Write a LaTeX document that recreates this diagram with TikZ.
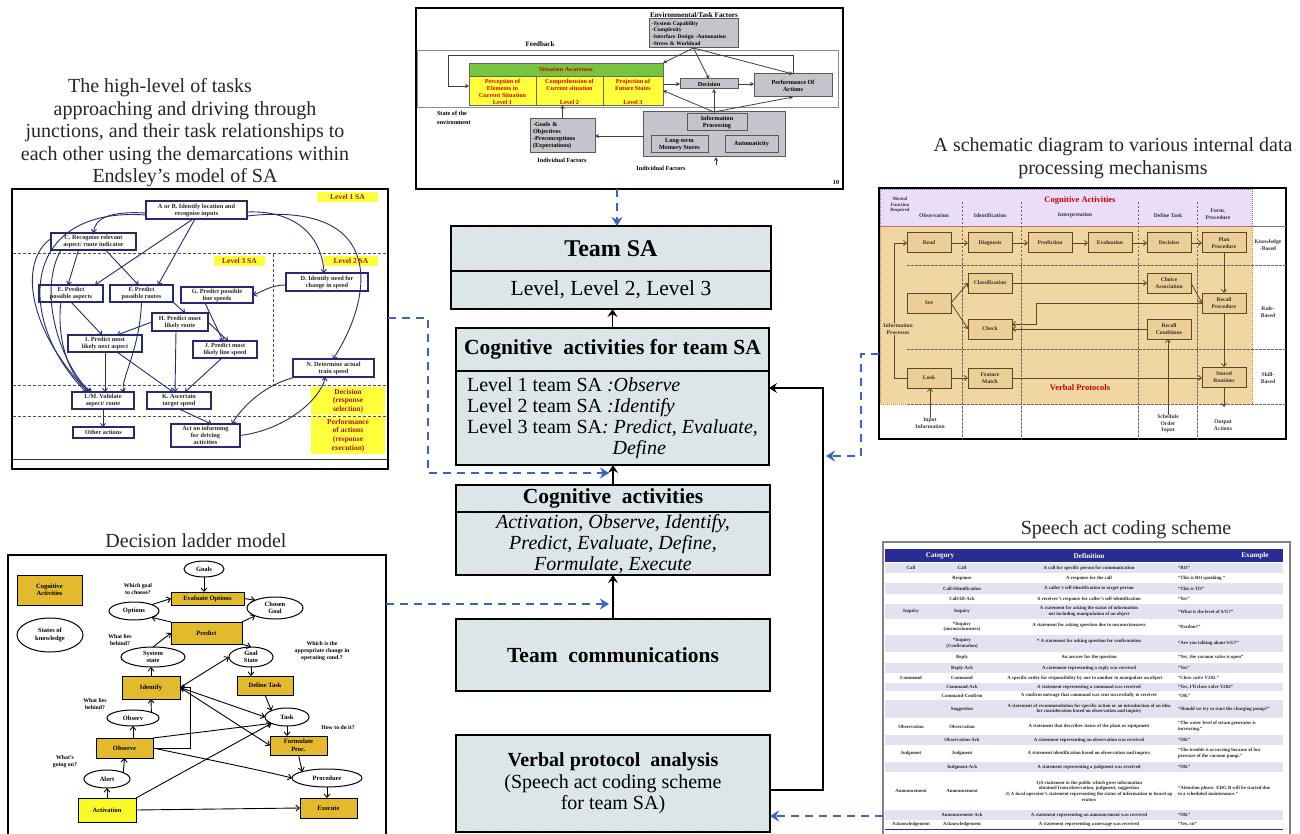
\documentclass[tikz,border=0pt]{standalone}
\usepackage{fontspec}
\setmainfont{Liberation Serif}
\usetikzlibrary{arrows.meta,patterns,shapes.geometric}
\newcommand{\myfs}[2]{\fontsize{#1}{#2}\selectfont}
\definecolor{cfill}{RGB}{231,240,243}
\definecolor{hatch}{RGB}{196,210,214}
\definecolor{dblue}{RGB}{58,98,204}
\definecolor{navy}{RGB}{38,42,112}
\definecolor{dred}{RGB}{170,20,20}
\definecolor{lvl}{RGB}{255,255,60}
\definecolor{gboxc}{RGB}{196,196,204}
\definecolor{sagreen}{RGB}{118,196,64}
\definecolor{gold}{RGB}{226,186,44}
\definecolor{actyel}{RGB}{250,250,40}
\definecolor{tanbg}{RGB}{240,215,162}
\definecolor{tanbox}{RGB}{236,207,150}
\definecolor{tanline}{RGB}{90,70,40}
\definecolor{lav}{RGB}{233,221,248}
\definecolor{lavline}{RGB}{150,100,200}
\definecolor{orng}{RGB}{230,120,40}
\definecolor{thead}{RGB}{42,44,150}
\definecolor{trow}{RGB}{226,226,240}
\definecolor{tframe}{RGB}{130,130,135}
\begin{document}
\begin{tikzpicture}[x=1pt,y=-1pt,
  every node/.style={inner sep=0pt, outer sep=0pt},
  frame/.style={draw=black, line width=1.6, anchor=north west},
  cbox/.style={draw=black, line width=1.7, preaction={fill=cfill}, pattern=north east lines, pattern color=hatch, anchor=north west, align=center},
  carrow/.style={draw=black, line width=1.8, -{Stealth[length=8pt,width=10pt,inset=3pt]}},
  dlink/.style={draw=dblue, line width=1.8, dash pattern=on 8pt off 6pt, -{Stealth[length=9pt,width=11pt,inset=3pt]}},
  caption/.style={font=\myfs{20}{22.5}, align=center, text=black!85},
  gb/.style={fill=gboxc, draw=black!65, line width=1, anchor=north west, align=center},
  tarrow/.style={draw=black!75, line width=0.8, -{Stealth[length=4pt,width=4pt]}},
  lvlbox/.style={fill=lvl, anchor=north west, font=\bfseries\myfs{7.5}{8.7}, text=dred, align=center},
  enode/.style={draw=navy, line width=1.3, fill=white, font=\bfseries\myfs{6.3}{7}, align=center, anchor=north west, text=black!85},
  eedge/.style={draw=navy, line width=0.9, -{Straight Barb[length=3pt,width=5pt]}},
  sbox/.style={draw=tanline, line width=1, fill=tanbox, minimum width=44, minimum height=20, anchor=north west, font=\bfseries\myfs{5.6}{6.4}, align=center, text=black!80},
  sarr/.style={draw=tanline, line width=0.8, -{Straight Barb[length=3pt,width=5pt]}},
  stxt/.style={font=\bfseries\myfs{5.6}{6.6}, align=center, text=black!80},
  dact/.style={fill=gold, draw=black, line width=1, anchor=north west, font=\bfseries\myfs{6.5}{7.5}, align=center},
  dstate/.style={ellipse, draw=black, line width=1, fill=white, font=\bfseries\myfs{6.5}{7.5}, align=center},
  dq/.style={font=\bfseries\myfs{5.8}{7}, align=center},
  darr/.style={draw=black, line width=0.9, -{Straight Barb[length=3.5pt,width=6pt]}},
  tc/.style={font=\bfseries\myfs{4.8}{5.6}, text=black!85, align=center},
  te/.style={tc, anchor=west, align=left},
]
\useasboundingbox (0,0) rectangle (1300,834);

% ================= captions =================
\node[caption] (capL) at (185,133) {The high-level of tasks\hspace*{50pt}\\approaching and driving through\\junctions, and their task relationships to\\each other using the demarcations within\\Endsley’s model of SA};
\node[caption] (capR) at (1113,158) {A schematic diagram to various internal data\\processing mechanisms};
\node[caption] (capD) at (196,541) {Decision ladder model};
\node[caption] (capS) at (1126,530) {Speech act coding scheme};

% ================= centre column =================
\node[cbox, minimum width=320, minimum height=45, font=\bfseries\myfs{24}{26}] (tsah) at (451,226) {Team SA};
\node[cbox, minimum width=320, minimum height=38, font=\myfs{21.5}{23}] (tsab) at (451,271) {Level, Level 2, Level 3};
\node[cbox, minimum width=313, minimum height=43, font=\bfseries\myfs{21.5}{23}] (cth) at (456,328) {Cognitive\ \ activities for team SA};
\node[cbox, minimum width=313, minimum height=94, align=left, font=\myfs{20}{21}] (ctb) at (456,371) {Level 1 team SA \textit{:Observe}\\Level 2 team SA \textit{:Identify}\\Level 3 team SA\textit{: Predict, Evaluate,}\\\hphantom{Level 3 team SA: }\textit{Define}};
\node[cbox, minimum width=314, minimum height=27, font=\bfseries\myfs{21.5}{23}] (cah) at (456,485) {Cognitive\ \ activities};
\node[cbox, minimum width=314, minimum height=63, font=\itshape\myfs{20}{21}] (cab) at (456,512) {Activation, Observe, Identify,\\Predict, Evaluate, Define,\\Formulate, Execute};
\node[cbox, minimum width=314, minimum height=72, font=\bfseries\myfs{21.5}{23}] (tc) at (456,619) {Team\ \ communications};
\node[cbox, minimum width=314, minimum height=97, font=\myfs{20}{21.5}] (vp) at (456,735) {\textbf{Verbal protocol\ \ analysis}\\(Speech act coding scheme\\for team SA)};

\draw[carrow] (cth.north) -- (cth.north |- tsab.south);
\draw[carrow] (cah.north) -- (cah.north |- ctb.south);
\draw[carrow] (tc.north) -- (tc.north |- cab.south);
\coordinate (fbA) at (823,790);
\coordinate (fbB) at (823,388);
\draw[carrow] (vp.east |- fbA) -- (fbA) -- (fbB) -- (ctb.east |- fbB);

% ================= top figure: Endsley model =================
\node[frame, line width=1.6, minimum width=427, minimum height=181] (topfig) at (416,8) {};
\begin{scope}[font=\bfseries\myfs{6.2}{7}]
  \node[font=\bfseries\myfs{7.2}{8}] (envt) at (694,15) {Environmental/Task Factors};
  \node[gb, minimum height=29, text width=83, inner xsep=3, align=left, font=\bfseries\myfs{5.6}{6.8}] (env) at (649,19) {-System Capability\\-Complexity\\-Interface Design -Automation\\-Stress \& Workload};
  \node[font=\bfseries\myfs{7}{8}] (fbt) at (540,44) {Feedback};
  \node[draw=black!45, line width=0.6, minimum width=421, minimum height=57, anchor=north west] (envr) at (417,50) {};
  \node[draw=black!60, fill=sagreen, line width=0.8, minimum width=194, minimum height=13, anchor=north west, text=red!85!black] (sah) at (469,63) {Situation Awareness};
  \node[draw=black!60, fill=lvl, line width=0.8, minimum width=67, minimum height=29, anchor=north west] (sa1) at (469,76) {};
  \node[draw=black!60, fill=lvl, line width=0.8, minimum width=67, minimum height=29, anchor=north west] (sa2) at (536,76) {};
  \node[draw=black!60, fill=lvl, line width=0.8, minimum width=60, minimum height=29, anchor=north west] (sa3) at (603,76) {};
  \node[align=center, text=red!85!black] (sa1t) at (502.5,91.5) {Perception of\\Elements in\\Current Situation\\Level 1};
  \node[align=center, text=red!85!black] (sa2t) at (569.5,85) {Comprehension of\\Current situation};
  \node[text=red!85!black] (sa2l) at (569.5,102) {Level 2};
  \node[align=center, text=red!85!black] (sa3t) at (633,84.5) {Projection of\\Future States};
  \node[text=red!85!black] (sa3l) at (633,102) {Level 3};
  \node[gb, minimum width=58, minimum height=10] (dec) at (680,79) {Decision};
  \node[gb, minimum width=78, minimum height=23] (perf) at (754,74) {Performance Of\\Actions};
  \node[gb, minimum width=142, minimum height=45] (info) at (643,112) {};
  \node[gb, minimum width=60, minimum height=17] (iproc) at (687,114) {Information\\Processing};
  \node[gb, minimum width=57, minimum height=17] (ltm) at (651,136) {Long-term\\Memory Stores};
  \node[gb, minimum width=53, minimum height=17] (auto) at (725,136) {Automaticity};
  \node[gb, minimum height=34, text width=59, inner xsep=3, align=left] (goals) at (530,119) {-Goals \&\\Objectives\\-Preconceptions\\(Expectations)};
  \node (if1) at (562,160) {Individual Factors};
  \node (if2) at (661,168) {Individual Factors};
  \node[anchor=west, align=left, font=\bfseries\myfs{6.2}{9}] (state) at (437,117.5) {State of the\\environment};
  \node (pg) at (836,182) {10};
\end{scope}
\coordinate (fb1) at (448,55);
\coordinate (fb2) at (448,86);
\draw[tarrow] (perf.north) -- (perf.north |- fb1) -- (fb1) -- (fb2) -- (sa1.west |- fb2);
\draw[tarrow] (env.south) -- (sah.north east);
\draw[tarrow] (env.south) -- (dec.north);
\draw[tarrow] (env.south) -- (perf.north);
\draw[tarrow] (sa3.east |- dec.west) -- (dec.west);
\draw[tarrow] (dec.east) -- (perf.west |- dec.east);
\draw[tarrow] (info.north) -- (sa3.east);
\draw[tarrow] (info.north) -- (info.north |- dec.south);
\draw[tarrow] (info.north) -- (perf.south);
\draw[tarrow] (info.west |- goals.east) -- (goals.east);
\draw[tarrow] (goals.north) -- (goals.north |- sa2.south);
\coordinate (ifin) at (716,165);
\draw[tarrow] (ifin) -- (ifin |- info.south);

% ================= left figure: junction tasks =================
\node[frame, line width=2, minimum width=376, minimum height=280] (endfig) at (12,189) {};
\begin{scope}[edash/.style={draw=black!70, line width=1, dash pattern=on 3pt off 2pt}]
  \draw[edash] (13,254) -- (387,254);
  \draw[edash] (13,385) -- (387,385);
  \draw[edash] (13,416) -- (387,416);
  \draw[edash] (273,254) -- (273,385);
  \draw[black!80, line width=1] (13,459) -- (387,459);
\end{scope}
\node[lvlbox, minimum width=61, minimum height=10] (l1) at (317,192) {Level 1 SA};
\node[lvlbox, minimum width=51, minimum height=10] (l3) at (214,256) {Level 3 SA};
\node[lvlbox, minimum width=54, minimum height=10] (l2) at (324,256) {Level 2 SA};
\node[lvlbox, minimum width=74, minimum height=28] (ldec) at (311,387) {Decision\\(response\\selection)};
\node[lvlbox, minimum width=74, minimum height=37] (lperf) at (311,417) {Performance\\of actions\\(response\\execution)};

\node[enode, minimum width=101, minimum height=18] (ab) at (146,201) {A or B. Identify location and\\recognise inputs};
\node[enode, minimum width=85, minimum height=17] (c) at (51,233) {C. Recognise relevant\\aspect/ route indicator};
\node[enode, minimum width=64, minimum height=17] (e) at (39,285) {E. Predict\\possible aspects};
\node[enode, minimum width=63, minimum height=17] (f) at (110,285) {F. Predict\\possible routes};
\node[enode, minimum width=72, minimum height=16] (g) at (181,287) {G. Predict possible\\line speeds};
\node[enode, minimum width=82, minimum height=18] (d) at (286,273) {D. Identify need for\\change in speed};
\node[enode, minimum width=56, minimum height=18] (h) at (152,313) {H. Predict most\\likely route};
\node[enode, minimum width=74, minimum height=17] (i) at (68,335) {I. Predict most\\likely next aspect};
\node[enode, minimum width=64, minimum height=17] (j) at (193,341) {J. Predict most\\likely line speed};
\node[enode, minimum width=81, minimum height=18] (n) at (293,359) {N. Determine actual\\train speed};
\node[enode, minimum width=62, minimum height=17] (lm) at (72,392) {L/M. Validate\\aspect/ route};
\node[enode, minimum width=64, minimum height=17] (k) at (147,392) {K. Ascertain\\target speed};
\node[enode, minimum width=61, minimum height=11] (oth) at (73,427) {Other actions};
\node[enode, minimum width=69, minimum height=23] (act) at (171,424) {Act on informing\\for driving\\activities};

\draw[eedge] ([yshift=-3]ab.west) .. controls (110,211) and (95,218) .. (c.north);
\draw[eedge] ([yshift=-5]ab.west) .. controls (20,206) and (15,320) .. ([xshift=14]lm.north west);
\draw[eedge] ([yshift=3]c.west) .. controls (18,262) and (28,330) .. ([xshift=16]lm.north west);
\draw[eedge] ([xshift=10]c.south west) .. controls (38,290) and (58,360) .. ([xshift=18]lm.north west);
\draw[eedge] ([xshift=47]ab.south west) -- ([xshift=-8]e.north east);
\draw[eedge] ([xshift=49]ab.south west) -- ([xshift=-15]f.north east);
\draw[eedge] ([xshift=-15]c.south) -- ([xshift=-3]e.north);
\draw[eedge] ([xshift=12]c.south) -- ([xshift=-3]f.north);
\draw[eedge] ([yshift=-2]ab.east) .. controls (300,210) and (322,240) .. ([xshift=38]d.north west);
\draw[eedge] ([yshift=-6]ab.east) .. controls (390,200) and (372,300) .. ([xshift=40]n.north west);
\draw[eedge] ([yshift=-3]d.west) .. controls (270,285) and (262,292) .. (g.east);
\draw[eedge] ([xshift=-12]g.south) -- ([xshift=-2]j.north);
\draw[eedge] (h.east) -- ([xshift=3]j.north);
\draw[eedge] (f.south east) -- ([xshift=5]h.north);
\draw[eedge] (h.west) -- ([xshift=12]i.north);
\draw[eedge] ([xshift=-4]h.south) -- ([xshift=-4]k.north);
\draw[eedge] (e.south) -- ([xshift=-3]i.north);
\draw[eedge] ([xshift=-10]e.south) .. controls (56,340) and (70,380) .. ([xshift=20]lm.north west);
\draw[eedge] (i.south) -- (i.south |- lm.north);
\draw[eedge] (f.south) .. controls (140,350) and (120,380) .. ([xshift=-10]lm.north east);
\draw[eedge] ([xshift=-25]i.south east) -- ([xshift=-6]k.north);
\draw[eedge] ([xshift=-3]j.south) -- ([xshift=6]k.north);
\draw[eedge] ([xshift=3]n.south west) .. controls (262,385) and (240,410) .. ([xshift=-8]act.north east);
\draw[eedge] (act.east) .. controls (285,430) and (320,400) .. ([xshift=-8]n.south);
\draw[eedge] (k.south) -- ([xshift=6]act.north);
\draw[eedge] (lm.south) -- (lm.south |- oth.north);

% ================= right figure: data processing schematic =================
\node[frame, line width=1.3, minimum width=407, minimum height=251] (schfig) at (879,188) {};
\fill[lav] (880,189) rectangle (1252,226);
\fill[tanbg] (880,226) rectangle (1252,404);
\draw[lavline, line width=0.9, dash pattern=on 1pt off 1pt] (880.5,189.5) rectangle (1252,226);
\draw[orng, line width=0.9, dash pattern=on 1pt off 1pt] (880.5,226) rectangle (1252,404);
\draw[black!55, line width=0.6] (1252,226) -- (1286,226);
\begin{scope}[sdash/.style={draw=black!60, line width=0.7, dash pattern=on 2.5pt off 1.5pt}]
  \draw[sdash] (907,265) -- (1286,265);
  \draw[sdash] (907,349) -- (1286,349);
  \draw[sdash] (907,404) -- (1286,404);
  \foreach \xx in {962,1021,1138,1197} \draw[sdash] (\xx,202) -- (\xx,439);
\end{scope}
\node[font=\bfseries\myfs{8.5}{9.5}, text=red!80!black] (cogt) at (1080,200) {Cognitive Activities};
\node[stxt, font=\bfseries\myfs{4.8}{5.6}] (mfr) at (900,205) {Mental\\Function\\Required};
\node[stxt] (hobs) at (934,216) {Observation};
\node[stxt] (hid) at (990,216) {Identification};
\node[stxt] (hint) at (1075,215) {Interpretation};
\node[stxt] (hdef) at (1168,216) {Define Task};
\node[stxt] (hform) at (1218,214) {Form.\\Procedure};
\node[stxt] (kb) at (1268,245) {Knowledge\\-Based};
\node[stxt] (rb) at (1268,312) {Rule-\\Based};
\node[stxt] (skb) at (1268,378) {Skill-\\Based};
\node[font=\bfseries\myfs{8.5}{9.5}, text=red!80!black] (vpt) at (1080,388) {Verbal Protocols};

\node[sbox] (read) at (907,233) {Read};
\node[sbox] (diag) at (968,233) {Diagnosis};
\node[sbox] (pred) at (1028,233) {Prediction};
\node[sbox] (eval) at (1088,233) {Evaluation};
\node[sbox] (sdec) at (1147,233) {Decision};
\node[sbox] (plan) at (1202,233) {Plan\\Procedure};
\node[sbox] (cls) at (968,273) {Classification};
\node[sbox] (choice) at (1147,273) {Choice\\Association};
\node[sbox] (see) at (907,293) {See};
\node[sbox] (rproc) at (1202,293) {Recall\\Procedure};
\node[sbox] (check) at (968,319) {Check};
\node[sbox] (rcond) at (1147,319) {Recall\\Conditions};
\node[sbox] (look) at (907,368) {Look};
\node[sbox] (feat) at (968,368) {Feature\\Match};
\node[sbox] (stored) at (1202,367) {Stored\\Routines};
\node[stxt] (inp) at (930,423) {Input\\Information};
\node[stxt] (sched) at (1168,424) {Schedule\\Order\\Input};
\node[stxt] (outa) at (1223,425) {Output\\Actions};

\draw[sarr] (read.east) -- (diag.west);
\draw[sarr] (diag.east) -- (pred.west);
\draw[sarr] (pred.east) -- (eval.west);
\draw[sarr] (eval.east) -- (sdec.west);
\draw[sarr] (sdec.east) -- (plan.west);
\draw[sarr] (plan.south) -- (rproc.north);
\draw[sarr] (rproc.south) -- (stored.north);
\coordinate (outp) at (0,407);
\draw[sarr] (stored.south) -- (stored.south |- outp);
\draw[sarr] (see.east) -- (cls.west);
\draw[sarr] (see.east) -- (check.west);
\draw[sarr] (cls.east) -- (choice.west |- cls.east);
\draw[sarr] (choice.east) -- (rproc.west);
\coordinate (r2) at (1036,324);
\draw[sarr] (rproc.west) -- (rproc.west -| r2) -- (r2) -- (check.east |- r2);
\draw[sarr] (rcond.west) -- (check.east |- rcond.west);
\draw[sarr] (look.east) -- (feat.west);
\draw[sarr] (feat.east) -- (stored.west |- feat.east);
\draw[sarr] (inp.north) -- (inp.north |- look.south);
\draw[sarr] (sched.north) -- (sched.north |- rcond.south);
\coordinate (ip1) at (894,0);
\draw[sarr] (look.west) -- (look.west -| ip1) -- (ip1 |- read.west) -- (read.west);
\node[stxt, fill=tanbg, inner sep=1pt] (ipt) at (898,329) {Information\\Processes};

% ================= decision ladder =================
\node[frame, line width=2.4, minimum width=378, minimum height=285] (dlfig) at (8,555) {};
\node[dact, minimum width=65, minimum height=30] (lgact) at (17,575) {Cognitive\\Activities};
\node[dstate, minimum width=66, minimum height=34] (lgst) at (50,635) {States of\\knowledge};

\node[dact, minimum width=73, minimum height=13] (evalopt) at (171,592) {Evaluate Options};
\node[dact, minimum width=71, minimum height=22] (predict) at (171,622) {Predict};
\node[dact, minimum width=58, minimum height=23] (identify) at (122,676) {Identify};
\node[dact, minimum width=56, minimum height=19] (deftask) at (237,676) {Define Task};
\node[dact, minimum width=57, minimum height=20] (observe) at (96,738) {Observe};
\node[dact, minimum width=57, minimum height=19] (formproc) at (270,736) {Formulate\\Proc.};
\node[dact, fill=actyel, minimum width=58, minimum height=24] (activation) at (78,798) {Activation};
\node[dact, minimum width=57, minimum height=20] (execute) at (300,798) {Execute};

\node[dstate, minimum width=40, minimum height=16] (goalsn) at (204,569) {Goals};
\node[dstate, minimum width=50, minimum height=18] (options) at (134,611) {Options};
\node[dstate, minimum width=56, minimum height=22] (chosen) at (275,608) {Chosen\\Goal};
\node[dstate, minimum width=64, minimum height=20] (sysstate) at (153,657) {System\\state};
\node[dstate, minimum width=44, minimum height=20] (goalstate) at (251,657) {Goal\\State};
\node[dstate, minimum width=52, minimum height=16] (observ) at (133,718) {Observ};
\node[dstate, minimum width=44, minimum height=18] (task) at (287,717) {Task};
\node[dstate, minimum width=46, minimum height=18] (alert) at (107,779) {Alert};
\node[dstate, minimum width=70, minimum height=18] (proc) at (327,778) {Procedure};

\node[dq] (q1) at (138,589) {Which goal\\to choose?};
\node[dq] (q2) at (120,640) {What lies\\behind?};
\node[dq] (q3) at (322,651) {Which is the\\appropriate change in\\operating cond.?};
\node[dq] (q4) at (95,704) {What lies\\behind?};
\node[dq] (q5) at (338,728) {How to do it?};
\node[dq] (q6) at (65,762) {What's\\going on?};

\draw[darr] (goalsn.south) -- (goalsn.south |- evalopt.north);
\draw[darr] (options.north east) -- (evalopt.west);
\draw[darr] (evalopt.east) -- (chosen.north west);
\draw[darr] (sysstate.north) -- (predict.west);
\draw[darr] (predict.north west) -- (options.south east);
\draw[darr] (predict.north east) -- (chosen.south west);
\draw[darr] (predict.south east) -- (goalstate.north);
\draw[darr] (identify.north) -- (identify.north |- sysstate.south);
\draw[darr] (identify.east) -- (goalstate.west);
\draw[darr] (goalstate.south) -- (goalstate.south |- deftask.north);
\draw[darr] (deftask.south) -- (task.north west);
\draw[darr, {Straight Barb[length=3.5pt,width=6pt]}-{Straight Barb[length=3.5pt,width=6pt]}] (identify.east) -- (task.west);
\draw[darr] (identify.east) -- (formproc.west);
\draw[darr] (observ.north east) -- (identify.south);
\draw[darr] (observ.south |- observe.north) -- (observ.south);
\coordinate (oe) at (190,0);
\draw[darr] (observe.east) -- (observe.east -| oe) -- (oe |- identify.east) -- (identify.east);
\draw[darr] (observe.north east) -- (task.south west);
\draw[darr] (observe.east) .. controls (210,760) and (260,770) .. (proc.west);
\draw[darr] (alert.north east) -- (observe.south);
\draw[darr] (activation.north) -- (alert.south);
\draw[darr] (activation.north east) -- (task.south west);
\draw[darr] (activation.east) -- (execute.west);
\draw[darr] (task.south) -- (task.south |- formproc.north);
\draw[darr] (formproc.south) -- (proc.north west);
\draw[darr] (proc.south) -- (proc.south |- execute.north);

% ================= speech act coding table =================
\node[draw=tframe, line width=2, minimum width=407, minimum height=296, anchor=north west] (spfig) at (883,542) {};
\fill[thead] (885,549) rectangle (1283,562);
\node[font=\bfseries\myfs{7.2}{8}, text=white] (th1) at (940,555.5) {Category};
\node[font=\bfseries\myfs{7.2}{8}, text=white] (th2) at (1089,555.5) {Definition};
\node[font=\bfseries\myfs{7.2}{8}, text=white] (th3) at (1255,555.5) {Example};
\foreach \t/\b in {563/573, 583/594, 604/619, 635/652, 663/673, 683/691, 700/718, 735/745, 762/772, 810/820}
  \fill[trow] (885,\t) rectangle (1283,\b);
\draw[thead, line width=1] (885,829) -- (1283,829);

% row 1
\node[tc] at (911,568) {Call};
\node[tc] at (962,568) {Call};
\node[tc] at (1089,568) {A call for specific person for communication};
\node[te] at (1178,568) {“RO”};
% row 2
\node[tc] at (962,578) {Response};
\node[tc] at (1089,578) {A response for the call};
\node[te] at (1178,578) {“This is RO speaking.”};
% row 3
\node[tc] at (962,588.5) {Call-Identification};
\node[tc] at (1089,588.5) {A caller’s self identification to target person};
\node[te] at (1178,588.5) {“This is TO”};
% row 4
\node[tc] at (962,599) {Call-ID-Ack};
\node[tc] at (1089,599) {A receiver’s response for caller’s self-identification};
\node[te] at (1178,599) {“Yes”};
% row 5
\node[tc] at (911,611.5) {Inquiry};
\node[tc] at (962,611.5) {Inquiry};
\node[tc] at (1089,611.5) {A statement for asking the status of information\\not including manipulation of an object};
\node[te] at (1178,611.5) {“What is the level of S/G?”};
% row 6
\node[tc] at (962,627) {*Inquiry\\(unconsciousness)};
\node[tc] at (1089,625) {A statement for asking question due to unconsciousness};
\node[te] at (1178,627) {“Pardon?”};
% row 7
\node[tc] at (962,643.5) {*Inquiry\\(Confirmation)};
\node[tc] at (1089,641) {* A statement for asking question for confirmation};
\node[te] at (1178,643.5) {“Are you talking about S/G?”};
% row 8
\node[tc] at (962,657.5) {Reply};
\node[tc] at (1089,657.5) {An answer for the question};
\node[te] at (1178,657.5) {“Yes, the vacuum valve is open”};
% row 9
\node[tc] at (962,668) {Reply-Ack};
\node[tc] at (1089,668) {A statement representing a reply was received};
\node[te] at (1178,668) {“Yes”};
% row 10
\node[tc] at (911,678) {Command};
\node[tc] at (962,678) {Command};
\node[tc] at (1085,678) {A specific order for responsibility by one to another to manipulate an object};
\node[te] at (1178,678) {“Close valve V202.”};
% row 11
\node[tc] at (962,687) {Command-Ack};
\node[tc] at (1089,687) {A statement representing a command was received};
\node[te] at (1178,687) {“Yes, I’ll close valve V202”};
% row 12
\node[tc] at (962,695.5) {Command-Confirm};
\node[tc] at (1089,695.5) {A confirm message that command was sent successfully to receiver};
\node[te] at (1178,695.5) {“OK”};
% row 13
\node[tc] at (962,709) {Suggestion};
\node[tc] at (1089,709) {A statement of recommendation for specific action or an introduction of an idea\\for consideration based on observation and inquiry};
\node[te] at (1178,709) {“Should we try to start the charging pump?”};
% row 14
\node[tc] at (911,726.5) {Observation};
\node[tc] at (962,726.5) {Observation};
\node[tc] at (1089,726.5) {A statement that describes status of the plant or equipment};
\node[te] at (1178,726.5) {“The water level of steam generator is\\increasing.”};
% row 15
\node[tc] at (962,740) {Observation-Ack};
\node[tc] at (1089,740) {A statement representing an observation was received};
\node[te] at (1178,740) {“OK”};
% row 16
\node[tc] at (911,753.5) {Judgment};
\node[tc] at (962,753.5) {Judgment};
\node[tc] at (1089,753.5) {A statement identification based on observation and inquiry};
\node[te] at (1178,753.5) {“The trouble is occurring because of low\\pressure of the vacuum pump.”};
% row 17
\node[tc] at (962,767) {Judgment-Ack};
\node[tc] at (1089,767) {A statement representing a judgment was received};
\node[te] at (1178,767) {“OK”};
% row 18
\node[tc] at (911,791) {Announcement};
\node[tc] at (962,791) {Announcement};
\node[tc] at (1089,791) {1)A statement to the public which gives information\\obtained from observation, judgment, suggestion\\2) A local operator’s statement representing the status of information to board op\\erators};
\node[te] at (1178,791) {“Attention please. EDG B will be started due\\to a scheduled maintenance.”};
% row 19
\node[tc] at (962,815) {Announcement-Ack};
\node[tc] at (1089,815) {A statement representing an announcement was received};
\node[te] at (1178,815) {“OK”};
% row 20
\node[tc] at (911,824.5) {Acknowledgement};
\node[tc] at (962,824.5) {Acknowledgement};
\node[tc] at (1089,824.5) {A statement representing a message was received};
\node[te] at (1178,824.5) {“Yes, sir”};

% ================= dashed links between the panels =================
\coordinate (dt) at (617,0);
\draw[dlink] (topfig.south -| dt) -- (tsah.north -| dt);
\coordinate (e1) at (428,318);
\coordinate (e2) at (428,473);
\coordinate (e3) at (609,473);
\draw[dlink] (endfig.east |- e1) -- (e1) -- (e2) -- (e3);
\coordinate (d1) at (609,604);
\draw[dlink] (dlfig.east |- d1) -- (d1);
\coordinate (s1) at (861,354);
\coordinate (s2) at (861,456);
\coordinate (s3) at (826,456);
\draw[dlink] (schfig.west |- s1) -- (s1) -- (s2) -- (s3);
\coordinate (v1) at (0,816);
\draw[dlink] (spfig.west |- v1) -- (vp.east |- v1);
\end{tikzpicture}
\end{document}
